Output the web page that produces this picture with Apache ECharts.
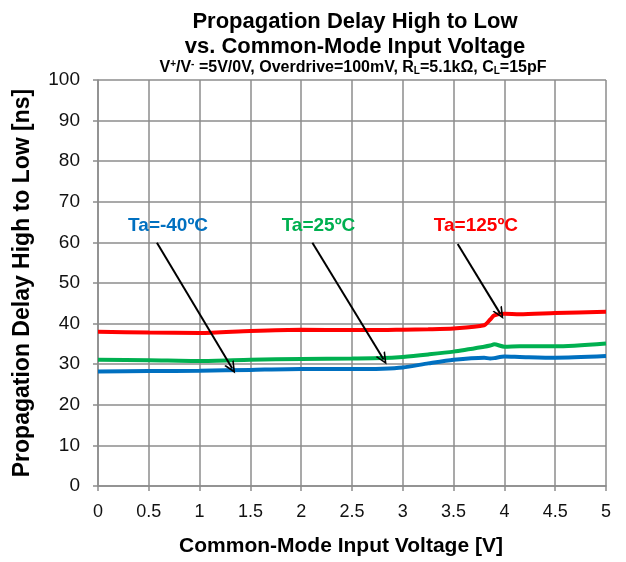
<!DOCTYPE html>
<html>
<head>
<meta charset="utf-8">
<script src="https://cdn.jsdelivr.net/npm/echarts@6/dist/echarts.min.js"></script>
<style>
  html, body { margin: 0; padding: 0; background: #ffffff; }
  #chart { width: 626px; height: 562px; }
</style>
</head>
<body>
<div id="chart"></div>
<script>
// Common-mode input voltage sample points [V]
const voltage = [0, 0.5, 1, 1.5, 2, 2.5, 2.8, 3, 3.25, 3.5, 3.8, 3.86, 3.9, 4, 4.15, 4.5, 5];

// Propagation delay high-to-low [ns] per ambient temperature
const delayMinus40 = [28.2, 28.3, 28.4, 28.6, 28.8, 28.8, 28.9, 29.2, 30.2, 31.1, 31.6, 31.4, 31.5, 31.9, 31.8, 31.6, 32.0];
const delay25      = [31.1, 31.0, 30.8, 31.1, 31.3, 31.4, 31.5, 31.8, 32.4, 33.1, 34.3, 34.6, 34.9, 34.3, 34.4, 34.4, 35.1];
const delay125     = [38.0, 37.8, 37.7, 38.2, 38.5, 38.4, 38.4, 38.5, 38.6, 38.8, 39.6, 41.0, 42.0, 42.4, 42.3, 42.6, 42.9];

// Axis ticks
const xTicks = [0, 5, 0.5];     // min, max, step
const yTicks = [0, 100, 10];    // min, max, step

// Callouts: label text, label anchor, arrow start, arrow tip (data units)
const calloutNames  = ['Ta=-40ºC', 'Ta=25ºC', 'Ta=125ºC'];
const calloutLabelAt = [[0.69, 64.2], [2.17, 64.2], [3.72, 64.2]];
const arrowFrom     = [[0.58, 59.9], [2.11, 59.9], [3.54, 59.6]];
const arrowTo       = [[1.32, 29.0], [2.81, 31.2], [3.96, 42.4]];

const colors = ['#0070c0', '#00b050', '#ff0000'];
const seriesValues = [delayMinus40, delay25, delay125];

const chevron = 'path://M5,0 L10,10 L8.4,10 L5,3.2 L1.6,10 L0,10 Z';
const font = 'Liberation Sans, Arial, sans-serif';

const series = seriesValues.map((vals, i) => ({
  type: 'line',
  name: calloutNames[i],
  data: voltage.map((v, k) => [v, vals[k]]),
  showSymbol: false,
  smooth: 0.25,
  lineStyle: { color: colors[i], width: 4 },
  z: 3 - i,
  markLine: {
    silent: true,
    symbol: ['none', chevron],
    symbolSize: [11, 12],
    lineStyle: { color: '#000000', width: 2, type: 'solid' },
    label: { show: false },
    data: [[{ coord: arrowFrom[i] }, { coord: arrowTo[i] }]],
    z: 10
  },
  markPoint: {
    silent: true,
    symbol: 'circle',
    symbolSize: 0,
    data: [{ coord: calloutLabelAt[i], value: calloutNames[i] }],
    label: {
      show: true,
      position: 'inside',
      formatter: calloutNames[i],
      color: colors[i],
      fontFamily: font,
      fontWeight: 'bold',
      fontSize: 19
    }
  }
}));

const chart = echarts.init(document.getElementById('chart'), null, { renderer: 'canvas' });

chart.setOption({
  animation: false,
  backgroundColor: '#ffffff',
  textStyle: { fontFamily: font },
  title: [
    {
      text: 'Propagation Delay High to Low\nvs. Common-Mode Input Voltage',
      left: 350,
      textAlign: 'center',
      top: 4,
      textStyle: {
        fontFamily: font,
        fontWeight: 'bold',
        fontSize: 22,
        lineHeight: 25,
        color: '#000000'
      }
    },
    {
      text: '{b|V}{sup|+}{b|/V}{sup|-}{b| =5V/0V, Overdrive=100mV, R}{sub|L}{b|=5.1kΩ, C}{sub|L}{b|=15pF}',
      left: 348,
      textAlign: 'center',
      top: 54,
      textStyle: {
        rich: {
          b:   { fontFamily: font, fontWeight: 'bold', fontSize: 16, lineHeight: 17, color: '#000000' },
          sup: { fontFamily: font, fontWeight: 'bold', fontSize: 10, lineHeight: 10, verticalAlign: 'top', color: '#000000' },
          sub: { fontFamily: font, fontWeight: 'bold', fontSize: 10, lineHeight: 10, verticalAlign: 'bottom', color: '#000000' }
        }
      }
    }
  ],
  grid: { left: 98, right: 20, top: 80, bottom: 71, containLabel: false },
  xAxis: {
    type: 'value',
    min: xTicks[0],
    max: xTicks[1],
    interval: xTicks[2],
    name: 'Common-Mode Input Voltage [V]',
    nameLocation: 'middle',
    nameGap: 50,
    nameTextStyle: { fontWeight: 'bold', fontSize: 21, color: '#000000', padding: [0, 22, 0, 0] },
    axisLine: { show: true, lineStyle: { color: '#8c8c8c', width: 1.5 } },
    axisTick: { show: true, inside: false, length: 5, lineStyle: { color: '#8c8c8c', width: 1.5 } },
    axisLabel: { fontSize: 18, color: '#111111', margin: 17 },
    splitLine: { show: true, lineStyle: { color: '#8c8c8c', width: 1.5 } }
  },
  yAxis: {
    type: 'value',
    min: yTicks[0],
    max: yTicks[1],
    interval: yTicks[2],
    name: 'Propagation Delay High to Low [ns]',
    nameLocation: 'middle',
    nameGap: 64,
    nameTextStyle: { fontWeight: 'bold', fontSize: 23, color: '#000000' },
    axisLine: { show: true, lineStyle: { color: '#8c8c8c', width: 1.5 } },
    axisTick: { show: true, inside: false, length: 5, lineStyle: { color: '#8c8c8c', width: 1.5 } },
    axisLabel: { fontSize: 19, color: '#111111', margin: 18 },
    splitLine: { show: true, lineStyle: { color: '#8c8c8c', width: 1.5 } }
  },
  series: series
});
</script>
</body>
</html>
